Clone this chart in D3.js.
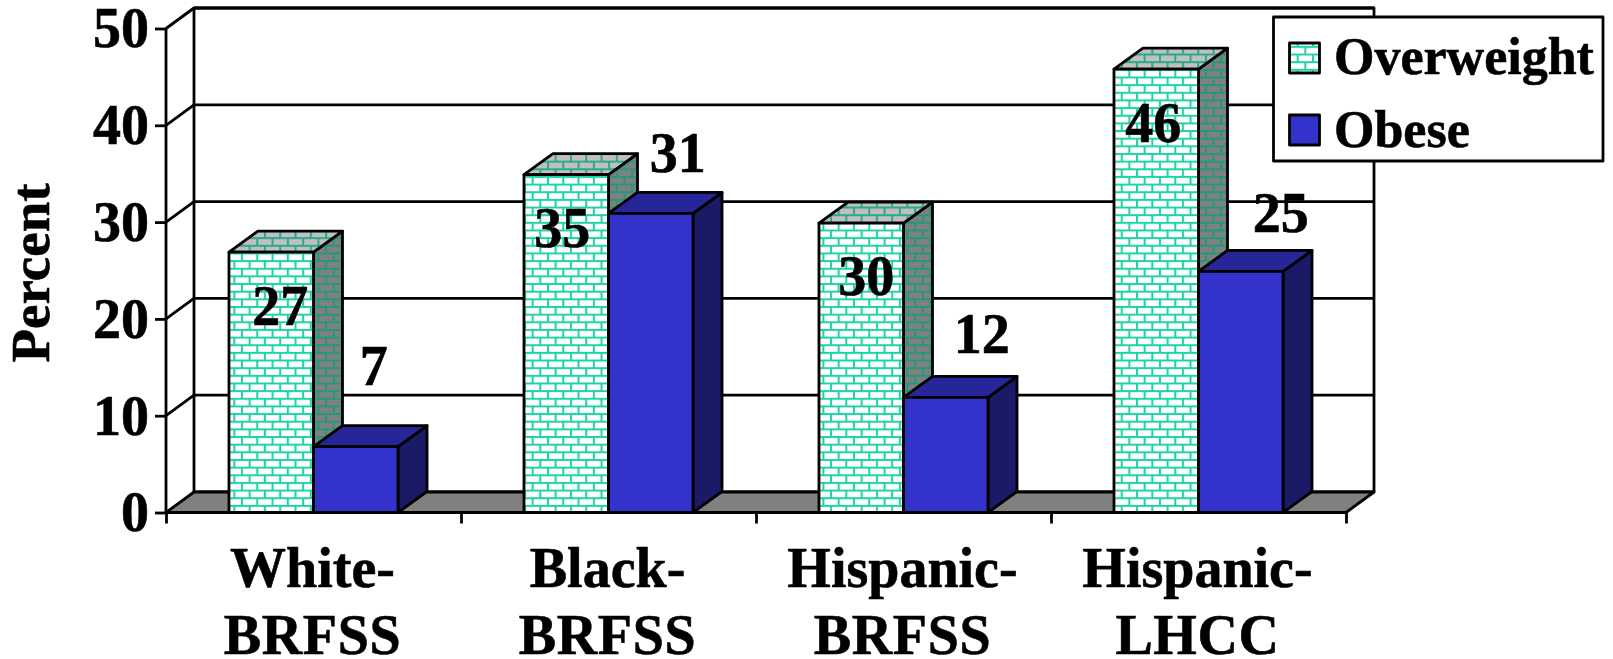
<!DOCTYPE html>
<html><head><meta charset="utf-8">
<script src="https://cdn.jsdelivr.net/npm/d3@7/dist/d3.min.js"></script>
<style>html,body{margin:0;padding:0;background:#fff}svg{display:block}text{font-family:"Liberation Serif",serif;font-weight:bold;fill:#000;stroke:#000;stroke-width:.6px}</style>
</head><body><svg id="c" width="1613" height="659"></svg>
<script>
const categories=[["White-","BRFSS"],["Black-","BRFSS"],["Hispanic-","BRFSS"],["Hispanic-","LHCC"]];
const seriesNames=["Overweight","Obese"];
const overweight=[26.9,34.9,29.9,45.8];
const obese=[6.8,30.9,11.9,24.9];
const yTicks=[0,10,20,30,40,50];
const overweightLabels=["27","35","30","46"];
const obeseLabels=["7","31","12","25"];

const W={l:166,r:1346,t:28.5,b:512.5,dx:28,dy:20.5};
const svg=d3.select("#c");
const defs=svg.append("defs");
function brick(id,bg,mortar){
  const s=15.3,m=2;
  const p=defs.append("pattern").attr("id",id).attr("patternUnits","userSpaceOnUse").attr("width",s).attr("height",s);
  p.append("rect").attr("width",s).attr("height",s).attr("fill",bg);
  [[0,0,s,m],[0,s/2,s,m],[s*0.25,0,m,s/2],[s*0.75,s/2,m,s/2]].forEach(r=>p.append("rect").attr("x",r[0]).attr("y",r[1]).attr("width",r[2]).attr("height",r[3]).attr("fill",mortar));
}
brick("bF","#fff","#1fd3a8");brick("bT","#c0c0c0","#2aa98b");brick("bS","#808080","#22997c");

const y=d3.scaleLinear().domain([0,50]).range([W.b,W.t]);
const xCat=d3.scaleBand().domain(d3.range(categories.length)).range([W.l,W.r]).paddingInner(0.427).paddingOuter(0.2135);
const xSer=d3.scaleBand().domain([0,1]).range([0,xCat.bandwidth()]);
const xTick=d3.scaleLinear().domain([0,categories.length]).range([W.l,W.r]);
const sw=2.8;
const stroke=s=>s.attr("stroke","#000").attr("stroke-width",sw).attr("stroke-linejoin","round");
const poly=(pts,fill)=>stroke(svg.append("polygon").attr("points",pts.map(p=>p.join(",")).join(" ")).attr("fill",fill));
const line=(a,b,c,d)=>stroke(svg.append("line").attr("x1",a).attr("y1",b).attr("x2",c).attr("y2",d));

// back wall, side wall and floor
const bx=W.l+W.dx, brx=W.r+W.dx;
poly([[bx,y(50)-W.dy],[brx,y(50)-W.dy],[brx,y(0)-W.dy],[bx,y(0)-W.dy]],"#fff");
poly([[W.l,y(0)],[bx,y(0)-W.dy],[brx,y(0)-W.dy],[W.r,y(0)]],"#808080");
yTicks.filter(t=>t>0).forEach(t=>{
  line(W.l,y(t),bx,y(t)-W.dy);
  line(bx,y(t)-W.dy,brx,y(t)-W.dy);
});
// axes
const ya=svg.append("g").attr("transform",`translate(${W.l},0)`).call(d3.axisLeft(y).tickValues(yTicks).tickSize(11).tickPadding(6).tickFormat(d3.format("d")));
ya.selectAll("path,line").attr("stroke","#000").attr("stroke-width",sw);
ya.select("path").attr("d",`M0,${y(50)}V${y(0)}`);
ya.selectAll("text").attr("font-size",56).attr("font-family","Liberation Serif").attr("font-weight","bold").attr("dy","0.33em");
const xa=svg.append("g").attr("transform",`translate(0,${W.b})`).call(d3.axisBottom(xTick).tickValues(d3.range(categories.length+1)).tickSize(11).tickFormat(""));
xa.selectAll("path,line").attr("stroke","#000").attr("stroke-width",sw);
xa.select("path").attr("d",`M${W.l},0H${W.r}`);

// bars
const D={dx:29,dy:21};
function bar(x0,w,v,front,top,side){
  const t=y(v),b=y(0);
  poly([[x0+w,t],[x0+w+D.dx,t-D.dy],[x0+w+D.dx,b-D.dy],[x0+w,b]],side);
  poly([[x0,t],[x0+D.dx,t-D.dy],[x0+w+D.dx,t-D.dy],[x0+w,t]],top);
  poly([[x0,t],[x0+w,t],[x0+w,b],[x0,b]],front);
}
categories.forEach((c,i)=>{
  const x0=xCat(i);
  bar(x0+xSer(0),xSer.bandwidth(),overweight[i],"url(#bF)","url(#bT)","url(#bS)");
  bar(x0+xSer(1),xSer.bandwidth(),obese[i],"#3333cc","#262699","#1a1a66");
});
// value labels (hand-placed in the source chart)
const ovNudge=[[9,73],[-4,72],[5,72],[-3,73]];
const obNudge=[[18,-62],[27,-41],[36,-44],[40,-39]];
const lab=(x,yy,s)=>svg.append("text").attr("x",x).attr("y",yy).attr("text-anchor","middle").attr("font-size",56).text(s);
categories.forEach((c,i)=>{
  const x0=xCat(i),w=xSer.bandwidth();
  lab(x0+xSer(0)+w/2+ovNudge[i][0],y(overweight[i])+ovNudge[i][1],overweightLabels[i]);
  lab(x0+xSer(1)+w/2+obNudge[i][0],y(obese[i])+obNudge[i][1],obeseLabels[i]);
});
// category labels
categories.forEach((c,i)=>{
  const cx=xCat(i)+xCat.bandwidth()/2-1;
  c.forEach((s,j)=>svg.append("text").attr("x",cx).attr("y",587+j*67).attr("text-anchor","middle").attr("font-size",56).attr("letter-spacing",s===s.toUpperCase()?0.6:0).text(s));
});
// y title
svg.append("text").attr("transform","translate(49,273) rotate(-90)").attr("text-anchor","middle").attr("font-size",55).text("Percent");
// legend
stroke(svg.append("rect").attr("x",1273.5).attr("y",17).attr("width",329.5).attr("height",144).attr("fill","#fff"));
[["url(#bF)",43,74],["#3333cc",115,147]].forEach((d,i)=>{
  stroke(svg.append("rect").attr("x",1289.5).attr("y",d[1]).attr("width",30).attr("height",30).attr("fill",d[0]));
  svg.append("text").attr("x",1334).attr("y",d[2]).attr("font-size",52).text(seriesNames[i]);
});
</script></body></html>
